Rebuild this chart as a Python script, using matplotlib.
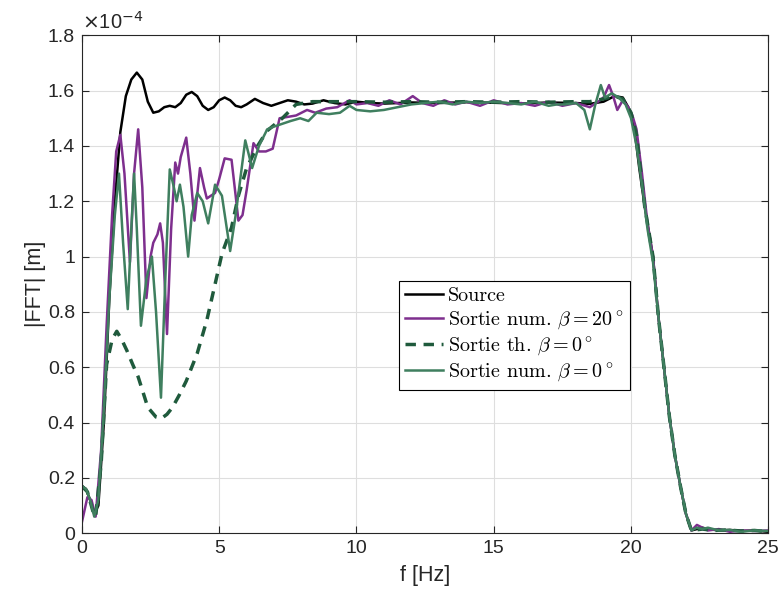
import matplotlib.pyplot as plt
from matplotlib.ticker import FuncFormatter

plt.rcParams['font.family'] = ['Liberation Sans', 'DejaVu Sans']
plt.rcParams['mathtext.fontset'] = 'cm'

# |FFT| values in units of 1e-4 m
f_src = [0.0, 0.15, 0.3, 0.45, 0.6, 0.8, 1.0, 1.2, 1.4, 1.6, 1.8, 2.0, 2.2, 2.4, 2.6, 2.8,
         3.0, 3.2, 3.4, 3.6, 3.8, 4.0, 4.2, 4.4, 4.6, 4.8, 5.0, 5.2, 5.4, 5.6, 5.8, 6.0,
         6.3, 6.6, 6.9, 7.2, 7.5, 7.8, 8.1, 8.4, 8.8, 9.2, 9.6, 10.0, 10.5, 11.0, 12.0,
         13.0, 14.0, 15.0, 16.0, 17.0, 18.0, 18.5, 19.0, 19.4, 19.7, 19.9, 20.1, 20.3,
         20.5, 20.8, 21.0, 21.2, 21.4, 21.6, 21.8, 22.0, 22.2, 22.4, 22.6, 22.8, 23.2,
         23.6, 24.0, 24.5, 25.0]
a_src = [0.17, 0.16, 0.12, 0.07, 0.10, 0.40, 0.85, 1.20, 1.45, 1.58, 1.64, 1.665, 1.64,
         1.56, 1.52, 1.525, 1.54, 1.545, 1.54, 1.555, 1.585, 1.595, 1.58, 1.545, 1.53,
         1.54, 1.565, 1.575, 1.565, 1.545, 1.54, 1.55, 1.57, 1.555, 1.545, 1.555, 1.565,
         1.56, 1.55, 1.553, 1.565, 1.555, 1.55, 1.56, 1.555, 1.553, 1.557, 1.555, 1.558,
         1.556, 1.553, 1.557, 1.555, 1.552, 1.56, 1.58, 1.575, 1.54, 1.48, 1.32, 1.18,
         1.0, 0.78, 0.6, 0.42, 0.28, 0.17, 0.07, 0.01, 0.015, 0.02, 0.015, 0.01, 0.012,
         0.008, 0.01, 0.005]

f_num20 = [0.0, 0.2, 0.35, 0.5, 0.7, 0.9, 1.1, 1.25, 1.4, 1.55, 1.75, 1.9, 2.05, 2.2,
           2.35, 2.5, 2.6, 2.75, 2.85, 2.95, 3.1, 3.25, 3.4, 3.5, 3.6, 3.8, 3.95, 4.1,
           4.3, 4.45, 4.55, 4.7, 4.85, 5.0, 5.2, 5.45, 5.6, 5.7, 5.85, 6.0, 6.25, 6.45,
           6.7, 6.95, 7.2, 7.5, 7.8, 8.2, 8.5, 8.9, 9.3, 9.75, 10.0, 10.4, 10.8, 11.2,
           11.6, 12.05, 12.4, 12.8, 13.2, 13.6, 14.0, 14.5, 15.0, 15.5, 16.0, 16.5, 17.0,
           17.5, 18.0, 18.5, 18.8, 19.0, 19.2, 19.35, 19.5, 19.7, 19.9, 20.05, 20.2, 20.4,
           20.6, 20.8, 21.0, 21.2, 21.4, 21.6, 21.8, 22.0, 22.2, 22.4, 22.6, 22.8, 23.2,
           23.6, 24.0, 24.5, 25.0]
a_num20 = [0.04, 0.13, 0.12, 0.06, 0.30, 0.75, 1.15, 1.38, 1.44, 1.30, 0.98, 1.30, 1.46,
           1.25, 0.85, 1.00, 1.05, 1.08, 1.12, 1.05, 0.72, 1.10, 1.34, 1.30, 1.36, 1.43,
           1.30, 1.13, 1.32, 1.25, 1.21, 1.22, 1.23, 1.28, 1.355, 1.35, 1.22, 1.13, 1.15,
           1.24, 1.41, 1.38, 1.38, 1.39, 1.50, 1.505, 1.51, 1.53, 1.52, 1.535, 1.54, 1.565,
           1.55, 1.555, 1.545, 1.565, 1.55, 1.58, 1.555, 1.545, 1.565, 1.55, 1.56, 1.545,
           1.565, 1.55, 1.555, 1.545, 1.56, 1.545, 1.555, 1.54, 1.56, 1.575, 1.62, 1.58,
           1.53, 1.565, 1.54, 1.51, 1.46, 1.30, 1.12, 1.0, 0.78, 0.6, 0.42, 0.28, 0.17,
           0.07, 0.01, 0.03, 0.02, 0.01, 0.015, 0.005, 0.01, 0.008, 0.01]

f_th0 = [0.0, 0.2, 0.4, 0.5, 0.7, 0.9, 1.1, 1.27, 1.45, 1.64, 1.85, 2.05, 2.4, 2.7, 2.9,
         3.1, 3.3, 3.55, 3.8, 4.2, 4.55, 4.85, 5.1, 5.45, 5.7, 6.0, 6.4, 6.75, 7.3, 7.8,
         8.4, 9.0, 10.0, 11.0, 12.0, 13.0, 14.0, 15.0, 16.0, 17.0, 18.0, 18.5, 19.0, 19.4,
         19.7, 20.0, 20.2, 20.5, 20.8, 21.0, 21.2, 21.4, 21.6, 21.8, 22.0, 22.2, 22.6,
         23.0, 23.5, 24.0, 24.5, 25.0]
a_th0 = [0.17, 0.15, 0.08, 0.06, 0.25, 0.61, 0.70, 0.73, 0.70, 0.66, 0.61, 0.565, 0.455,
         0.42, 0.415, 0.43, 0.455, 0.50, 0.55, 0.65, 0.77, 0.90, 1.01, 1.105, 1.22, 1.32,
         1.40, 1.455, 1.50, 1.55, 1.56, 1.56, 1.56, 1.558, 1.56, 1.558, 1.56, 1.558, 1.56,
         1.558, 1.56, 1.56, 1.57, 1.58, 1.57, 1.52, 1.44, 1.18, 1.0, 0.78, 0.6, 0.42,
         0.28, 0.17, 0.07, 0.01, 0.015, 0.01, 0.012, 0.008, 0.01, 0.005]

f_num0 = [0.0, 0.15, 0.3, 0.45, 0.6, 0.8, 1.0, 1.2, 1.35, 1.5, 1.67, 1.8, 1.9, 2.0, 2.15,
          2.35, 2.55, 2.7, 2.88, 3.05, 3.2, 3.35, 3.45, 3.57, 3.7, 3.87, 4.0, 4.2, 4.4,
          4.6, 4.85, 5.1, 5.4, 5.6, 5.95, 6.2, 6.45, 6.75, 7.0, 7.3, 7.6, 7.95, 8.25, 8.55,
          9.0, 9.4, 9.75, 10.0, 10.5, 11.0, 11.5, 12.0, 12.5, 13.0, 13.5, 14.0, 14.5,
          15.0, 15.5, 16.0, 16.5, 17.0, 17.3, 17.6, 18.0, 18.3, 18.5, 18.7, 18.9, 19.05,
          19.3, 19.55, 19.8, 20.0, 20.2, 20.4, 20.6, 20.8, 21.0, 21.2, 21.4, 21.6, 21.8,
          22.0, 22.2, 22.4, 22.6, 22.8, 23.2, 23.6, 24.0, 24.5, 25.0]
a_num0 = [0.17, 0.16, 0.12, 0.06, 0.12, 0.45, 0.85, 1.15, 1.30, 1.05, 0.81, 1.10, 1.30,
          1.10, 0.75, 0.92, 1.00, 0.80, 0.49, 0.95, 1.315, 1.25, 1.20, 1.26, 1.18, 1.00,
          1.15, 1.23, 1.20, 1.12, 1.26, 1.22, 1.02, 1.15, 1.42, 1.32, 1.40, 1.46, 1.47,
          1.48, 1.49, 1.50, 1.49, 1.52, 1.515, 1.52, 1.545, 1.53, 1.525, 1.53, 1.54, 1.55,
          1.555, 1.56, 1.55, 1.56, 1.555, 1.56, 1.555, 1.55, 1.56, 1.545, 1.55, 1.55,
          1.555, 1.53, 1.46, 1.55, 1.62, 1.575, 1.59, 1.575, 1.55, 1.50, 1.40, 1.26, 1.10,
          0.98, 0.78, 0.6, 0.42, 0.28, 0.17, 0.07, 0.01, 0.02, 0.015, 0.02, 0.01, 0.012,
          0.005, 0.01, 0.008]

fig = plt.figure(figsize=(7.8, 6.08), dpi=100)
ax = fig.add_axes([0.105, 0.123, 0.88, 0.819])

ax.plot(f_src, a_src, color='black', lw=1.8, label='Source')
ax.plot(f_num20, a_num20, color='#7E2F8E', lw=1.8, label=r'Sortie num. $\beta = 20^\circ$')
ax.plot(f_th0, a_th0, color='#1F5A3C', lw=2.5, ls=(0, (3, 2.2)), label=r'Sortie th. $\beta = 0^\circ$')
ax.plot(f_num0, a_num0, color='#3F7F5F', lw=1.8, label=r'Sortie num. $\beta = 0^\circ$')

ax.set_xlim(0, 25)
ax.set_ylim(0, 1.8)
ax.set_xticks([0, 5, 10, 15, 20, 25])
ax.set_yticks([0, 0.2, 0.4, 0.6, 0.8, 1.0, 1.2, 1.4, 1.6, 1.8])
ax.yaxis.set_major_formatter(FuncFormatter(lambda v, p: f'{v:g}'))
ax.tick_params(direction='in', top=True, right=True, labelsize=14, length=5, pad=5,
               color='#262626', labelcolor='#262626')
ax.grid(True, color='#dedede', lw=0.8)
ax.set_axisbelow(True)
for s in ax.spines.values():
    s.set_color('#262626')
    s.set_linewidth(0.8)

ax.set_xlabel('f [Hz]', fontsize=15.5, color='#262626', labelpad=6)
ax.set_ylabel('|FFT| [m]', fontsize=15.5, color='#262626', labelpad=1)
ax.text(0.0, 1.005, r'$\times$10$^{-4}$', transform=ax.transAxes, fontsize=14.5,
        color='#262626', va='bottom', ha='left', family=['Liberation Sans'],
        math_fontfamily='dejavusans')

leg = ax.legend(loc='upper left', bbox_to_anchor=(0.462, 0.506), fancybox=False,
                framealpha=1, edgecolor='black', handlelength=1.9, handletextpad=0.25,
                borderpad=0.3, labelspacing=0.18, borderaxespad=0,
                prop={'family': 'serif', 'size': 14.5})
leg.get_frame().set_linewidth(0.8)
for t in leg.get_texts():
    t.set_fontfamily('cmr10')

fig.savefig('out.png', dpi=100)
